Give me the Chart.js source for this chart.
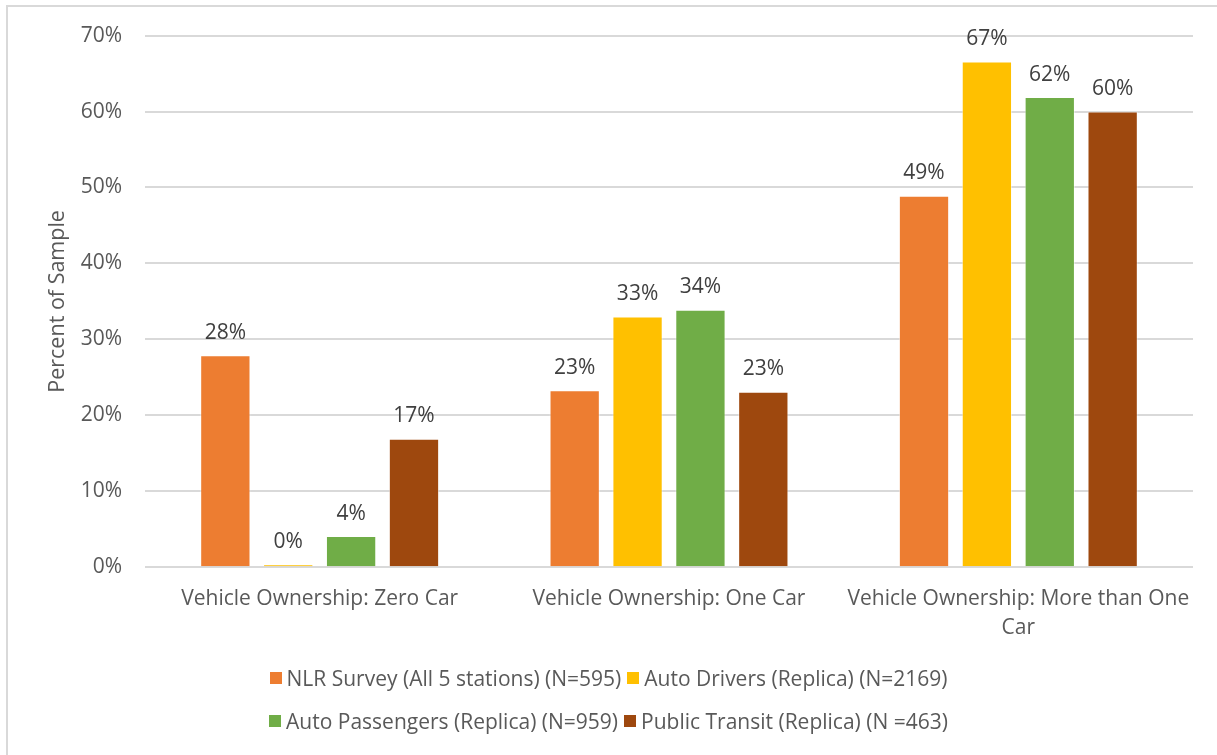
<!DOCTYPE html>
<html lang="en">
<head>
    <meta charset="UTF-8">
    <script src="https://cdn.jsdelivr.net/npm/chart.js"></script>
    <title>Vehicle Ownership</title>
    <style>
        body { margin: 0; background: #fff; }
        #wrap { position: relative; width: 1217px; height: 755px; }
        #frame { position: absolute; left: 6px; top: 5px; right: -2px; bottom: -2px; border: 2px solid #d9d9d9; box-sizing: border-box; }
        #legend { position: absolute; left: 0; width: 1217px; top: 656px; font-family: "Open Sans", sans-serif; font-size: 21px; color: #595959; }
        .row { display: flex; justify-content: center; height: 43px; align-items: center; }
        .item { display: flex; align-items: center; margin: 0 3px; }
        .box { width: 12px; height: 12px; margin-right: 5px; }
    </style>
</head>
<body>
    <div id="wrap">
        <canvas id="myChart" width="1217" height="755"></canvas>
        <div id="frame"></div>
        <div id="legend"></div>
    </div>
    <script>
        const categories = ["Vehicle Ownership: Zero Car", "Vehicle Ownership: One Car", ["Vehicle Ownership: More than One", "Car"]];
        const seriesNames = ["NLR Survey (All 5 stations) (N=595)", "Auto Drivers (Replica) (N=2169)", "Auto Passengers (Replica) (N=959)", "Public Transit (Replica) (N =463)"];
        const nlrSurvey = [27.9, 23.3, 48.9];
        const autoDrivers = [0.4, 33.0, 66.6];
        const autoPassengers = [4.1, 33.9, 61.9];
        const publicTransit = [16.9, 23.1, 60.0];
        const colors = ["#ed7d31", "#ffc000", "#70ad47", "#9e480e"];

        const barLabels = {
            id: 'barLabels',
            afterDatasetsDraw(chart) {
                const c = chart.ctx;
                c.save();
                c.font = '21px "Open Sans", sans-serif';
                c.fillStyle = '#404040';
                c.textAlign = 'center';
                c.textBaseline = 'bottom';
                chart.data.datasets.forEach((ds, i) => {
                    chart.getDatasetMeta(i).data.forEach((bar, j) => {
                        c.fillText(Math.round(ds.data[j]) + '%', bar.x, bar.y - 12);
                    });
                });
                c.restore();
            }
        };

        const allSeries = [nlrSurvey, autoDrivers, autoPassengers, publicTransit];
        const ctx = document.getElementById('myChart');
        const chart = new Chart(ctx, {
            type: 'bar',
            data: {
                labels: categories,
                datasets: allSeries.map((d, i) => ({
                    label: seriesNames[i],
                    data: d,
                    backgroundColor: colors[i],
                    borderColor: 'rgba(255,255,255,0.5)',
                    borderWidth: 1,
                    categoryPercentage: 0.72,
                    barPercentage: 0.8
                }))
            },
            options: {
                responsive: false,
                animation: false,
                layout: { padding: { left: 45, right: 24, top: 27, bottom: 103 } },
                plugins: {
                    legend: { display: false },
                    tooltip: { enabled: false }
                },
                scales: {
                    x: {
                        grid: { display: false },
                        border: { display: false },
                        ticks: {
                            color: '#595959',
                            font: { family: '"Open Sans", sans-serif', size: 21, lineHeight: 1.4 },
                            maxRotation: 0,
                            minRotation: 0,
                            autoSkip: false,
                            padding: 9
                        }
                    },
                    y: {
                        min: 0,
                        max: 70,
                        afterFit: scale => { scale.width = 100; },
                        ticks: {
                            stepSize: 10,
                            color: '#595959',
                            font: { family: '"Open Sans", sans-serif', size: 21 },
                            padding: 23,
                            callback: v => v + '%'
                        },
                        grid: { color: '#d9d9d9', lineWidth: 2, drawTicks: false },
                        border: { display: false },
                        title: {
                            display: true,
                            text: 'Percent of Sample',
                            color: '#595959',
                            font: { family: '"Open Sans", sans-serif', size: 21.5 },
                            padding: { top: 0, bottom: 12 }
                        }
                    }
                }
            },
            plugins: [barLabels]
        });

        const legend = document.getElementById('legend');
        [[0, 1], [2, 3]].forEach(pair => {
            const row = document.createElement('div');
            row.className = 'row';
            pair.forEach(i => {
                const item = document.createElement('div');
                item.className = 'item';
                item.innerHTML = '<span class="box" style="background:' + colors[i] + '"></span>' + seriesNames[i];
                row.appendChild(item);
            });
            legend.appendChild(row);
        });
    </script>
</body>
</html>
